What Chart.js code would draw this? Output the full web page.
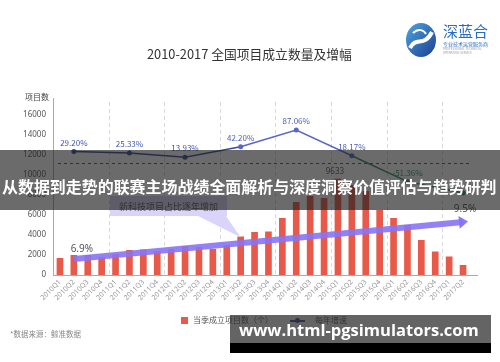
<!DOCTYPE html>
<html><head><meta charset="utf-8">
<script src="https://cdn.jsdelivr.net/npm/chart.js@4/dist/chart.umd.min.js"></script>
<style>
html,body{margin:0;padding:0;background:#fff;}
#wrap{position:relative;width:500px;height:362px;overflow:hidden;font-family:"Noto Sans CJK SC","Noto Sans",sans-serif;background:#fff;}
canvas{position:absolute;left:0;top:0;}
.abs{position:absolute;white-space:nowrap;}
</style></head><body>
<div id="wrap">
<canvas id="c" width="500" height="362"></canvas>

<div class="abs" id="title" style="top:45px;left:147px;font-size:13px;line-height:18px;color:#333;">2010-2017 全国项目成立数量及增幅</div>

<svg class="abs" style="left:404px;top:22px;" width="34" height="36" viewBox="0 0 34 36">
  <defs><linearGradient id="lg" x1="0" y1="0" x2="1" y2="1"><stop offset="0" stop-color="#4fa3e3"/><stop offset="1" stop-color="#1b3f8f"/></linearGradient></defs>
  <ellipse cx="17" cy="18" rx="15" ry="17" fill="url(#lg)"/>
  <path d="M6 26 C 12 14, 20 26, 28 10" stroke="#fff" stroke-width="4" fill="none"/>
  <path d="M9 11 C 14 6, 20 8, 22 12" stroke="#fff" stroke-width="2" fill="none"/>
</svg>
<div class="abs" style="left:443px;top:22px;font-size:15px;line-height:18px;color:#2a6cc0;">深蓝合</div>
<div class="abs" style="left:443px;top:41px;font-size:5px;line-height:6px;color:#2a6cc0;">专业技术运营服务商</div>
<div class="abs" style="left:443px;top:47px;font-size:3px;line-height:4px;color:#999;">PROFESSIONAL TECHNICAL</div>
<div class="abs" style="left:443px;top:51px;font-size:3px;line-height:4px;color:#999;">OPERATION SERVICE</div>

<div class="abs" style="left:25px;top:91px;font-size:8px;line-height:11px;color:#444;">项目数</div>

<!-- legend -->
<div class="abs" style="left:181px;top:317px;width:7px;height:7px;background:#e8594a;"></div>
<div class="abs" style="left:193px;top:314px;font-size:8px;line-height:12px;color:#555;">当季成立项目数（个）</div>
<div class="abs" style="left:290px;top:320px;width:15px;height:1.5px;background:#3b4a96;"></div>
<div class="abs" style="left:295px;top:318px;width:5px;height:5px;border-radius:50%;background:#3b4a96;"></div>
<div class="abs" style="left:315px;top:314px;font-size:8px;line-height:12px;color:#555;">每年增速</div>

<div class="abs" style="left:10px;top:328px;font-size:7.5px;line-height:11px;color:#888;">*数据来源：鲸准数据</div>

<!-- overlays -->
<div class="abs" style="left:0;top:150px;width:500px;height:60px;background:rgba(30,30,30,0.66);"></div>
<div class="abs" id="banner" style="left:2px;top:175px;font-size:16px;line-height:22px;font-weight:bold;color:#fff;">从数据到走势的联赛主场战绩全面解析与深度洞察价值评估与趋势研判</div>

<div class="abs" style="left:230px;top:315px;width:261px;height:28px;background:rgba(40,40,40,0.72);"></div>
<div class="abs" style="left:230px;top:343px;width:261px;height:10px;background:#000;"></div>
<div class="abs" id="wm" style="left:239px;top:318px;font-family:'Open Sans',sans-serif;font-size:17px;line-height:24px;font-weight:bold;color:#fff;">www.html-pgsimulators.com</div>
</div>

<script>
const quarters = ['2010Q1','2010Q2','2010Q3','2010Q4','2011Q1','2011Q2','2011Q3','2011Q4',
  '2012Q1','2012Q2','2012Q3','2012Q4','2013Q1','2013Q2','2013Q3','2013Q4',
  '2014Q1','2014Q2','2014Q3','2014Q4','2015Q1','2015Q2','2015Q3','2015Q4',
  '2016Q1','2016Q2','2016Q3','2016Q4','2017Q1','2017Q2'];
const projectCounts = [1700,2000,2000,1800,2100,2500,2550,2400,
  2600,2900,2800,2600,3000,3850,4300,4350,
  5700,7300,7900,7700,9633,9000,8400,6500,
  5700,5000,3500,2350,1850,1000];
const peakLabel = '9633';
const growthAt = ['2010Q2','2011Q2','2012Q2','2013Q2','2014Q2','2015Q2','2016Q2','2017Q2'];
const growthRates = [29.20,25.33,13.93,42.20,87.06,18.17,-51.36,-81.8];
const growthLabels = ['29.20%','25.33%','13.93%','42.20%','87.06%','18.17%','-51.36%',''];
const shareAt = ['2010Q2','2017Q2'];
const shareValues = [6.9, 9.5];
const shareLabels = ['6.9%','9.5%'];
const referenceLevel = 11200;
const yTicks = [0,2000,4000,6000,8000,10000,12000,14000,16000];

const BAR = '#e8594a', NAVY = '#3b4a96', BLUE = '#5866c6', GREEN = '#2f8f5a';
const segColor = i => i < 3 ? NAVY : (i < 5 ? BLUE : GREEN);
const ptColor = i => i < 6 ? (i < 3 ? NAVY : BLUE) : GREEN;

const annot = {
  id: 'annot',
  beforeDatasetsDraw(chart) {
    const {ctx, chartArea: ca, scales: {x}} = chart;
    ctx.save();
    ctx.strokeStyle = '#d9d9d9'; ctx.lineWidth = 1; ctx.setLineDash([4,3]);
    for (let i = 4; i < quarters.length; i += 4) {
      const px = Math.round((x.getPixelForValue(i-1) + x.getPixelForValue(i)) / 2) + 0.5;
      ctx.beginPath(); ctx.moveTo(px, ca.top + 4); ctx.lineTo(px, ca.bottom); ctx.stroke();
    }
    ctx.restore();
  },
  afterDatasetsDraw(chart) {
    const {ctx, chartArea: ca, scales: {x, y}} = chart;
    ctx.save();
    // reference dashed line
    const ry = Math.round(y.getPixelForValue(referenceLevel)) + 0.5;
    ctx.strokeStyle = '#555'; ctx.lineWidth = 1; ctx.setLineDash([3,3]);
    ctx.beginPath(); ctx.moveTo(ca.left + 5, ry); ctx.lineTo(ca.right, ry); ctx.stroke();
    ctx.setLineDash([]);
    // x axis extension
    ctx.strokeStyle = '#aaa';
    ctx.beginPath(); ctx.moveTo(ca.right, ca.bottom + 0.5); ctx.lineTo(ca.right + 8, ca.bottom + 0.5); ctx.stroke();
    // peak bar label
    const bm = chart.getDatasetMeta(2);
    const pk = projectCounts.indexOf(Math.max(...projectCounts));
    ctx.font = '8px "Noto Sans", sans-serif';
    ctx.textAlign = 'center'; ctx.textBaseline = 'middle';
    ctx.fillStyle = '#555';
    ctx.fillText(peakLabel, bm.data[pk].x - 3, bm.data[pk].y - 7);
    // growth labels
    const lm = chart.getDatasetMeta(1);
    ctx.font = '8px "Noto Sans CJK SC", sans-serif';
    lm.data.forEach((p, i) => {
      if (!growthLabels[i]) return;
      ctx.fillStyle = i >= 6 ? GREEN : (i < 3 ? '#3d55b0' : '#4c5cc0');
      ctx.fillText(growthLabels[i], p.x, p.y - 9);
    });
    // arrow head + labels
    const am = chart.getDatasetMeta(0);
    const a0 = am.data[0], a1 = am.data[am.data.length - 1];
    const dx = a1.x - a0.x, dy = a1.y - a0.y, len = Math.hypot(dx, dy);
    const ux = dx / len, uy = dy / len, nx = -uy, ny = ux;
    const bx = a1.x - ux * 4, by = a1.y - uy * 4;
    ctx.fillStyle = 'rgba(135,115,245,0.95)';
    ctx.beginPath();
    ctx.moveTo(a1.x + ux * 5, a1.y + uy * 5);
    ctx.lineTo(bx + nx * 6.5, by + ny * 6.5);
    ctx.lineTo(bx - nx * 6.5, by - ny * 6.5);
    ctx.closePath(); ctx.fill();
    ctx.fillStyle = '#555';
    ctx.font = '10px "Noto Sans", sans-serif';
    ctx.fillText(shareLabels[0], a0.x + 8, a0.y - 10);
    ctx.fillText(shareLabels[1], a1.x + 2, a1.y - 13);
    // callout box
    const tx = x.getPixelForValue(quarters.indexOf('2013Q2'));
    const tyArrow = a0.y + (tx - a0.x) / dx * dy;
    ctx.fillStyle = '#dad4fa';
    ctx.fillRect(110, 196, 117, 20);
    ctx.beginPath(); ctx.moveTo(198, 216); ctx.lineTo(226, 216); ctx.lineTo(tx, tyArrow - 6); ctx.closePath(); ctx.fill();
    ctx.fillStyle = '#555';
    ctx.font = '9px "Noto Sans CJK SC", sans-serif';
    ctx.fillText('新科技项目占比逐年增加', 168.5, 206.5);
    ctx.restore();
  }
};

new Chart(document.getElementById('c'), {
  type: 'bar',
  data: {
    labels: quarters,
    datasets: [
      {
        type: 'line', label: '新科技项目占比', order: 0, yAxisID: 'share',
        data: shareAt.map((q, i) => ({x: q, y: shareValues[i]})),
        borderColor: 'rgba(135,115,245,0.9)', borderWidth: 6, pointRadius: 0, borderCapStyle: 'butt', tension: 0
      },
      {
        type: 'line', label: '每年增速', order: 1, yAxisID: 'pct',
        data: growthAt.map((q, i) => ({x: q, y: growthRates[i]})),
        borderColor: NAVY, borderWidth: 1.5, tension: 0,
        segment: { borderColor: c => segColor(c.p0DataIndex) },
        pointRadius: 2.5, pointBorderWidth: 0,
        pointBackgroundColor: growthRates.map((v, i) => ptColor(i))
      },
      {
        type: 'bar', label: '当季成立项目数（个）', order: 2, yAxisID: 'y',
        data: projectCounts, backgroundColor: BAR,
        barPercentage: 0.48, categoryPercentage: 1
      }
    ]
  },
  options: {
    responsive: false, animation: false,
    layout: { padding: { top: 98, right: 30, bottom: 0, left: 0 } },
    plugins: { legend: { display: false }, tooltip: { enabled: false }, title: { display: false } },
    scales: {
      x: {
        type: 'category', offset: true,
        grid: { display: false, drawTicks: false },
        border: { display: true, color: '#aaa', width: 1 },
        ticks: { autoSkip: false, minRotation: 45, maxRotation: 45, padding: 3, color: '#999',
                 font: { size: 7, family: '"Noto Sans", sans-serif' } },
        afterFit: s => { s.height = 87; }
      },
      y: {
        position: 'left', min: 0, max: 17700,
        grid: { display: false, drawTicks: false },
        border: { display: true, color: '#aaa', width: 1 },
        ticks: { stepSize: 2000, padding: 7, color: '#555', font: { size: 8, family: '"Noto Sans", sans-serif' },
                 callback: v => String(v) },
        afterBuildTicks: s => { s.ticks = yTicks.map(v => ({value: v})); },
        afterFit: s => { s.width = 53; }
      },
      pct: { display: false, min: -301.6, max: 172.9 },
      share: { display: false, min: 5.776, max: 18.214 }
    }
  },
  plugins: [annot]
});

function fitWidth(id, target) {
  const el = document.getElementById(id);
  const w = el.getBoundingClientRect().width;
  const fs = parseFloat(getComputedStyle(el).fontSize);
  el.style.fontSize = (fs * target / w) + 'px';
}
fitWidth('title', 205);
fitWidth('banner', 495);
fitWidth('wm', 240);
</script>
</body></html>
